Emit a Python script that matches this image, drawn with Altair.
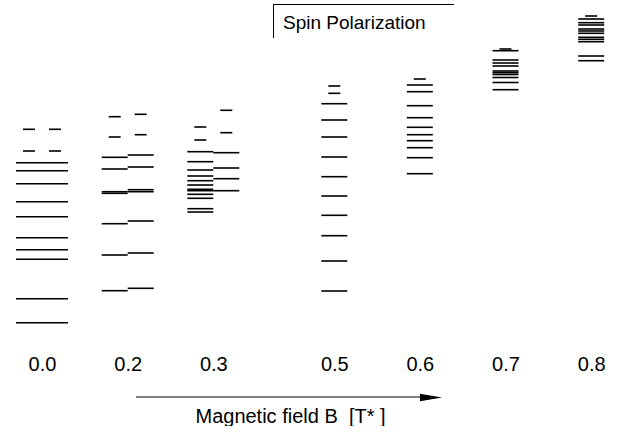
import altair as alt
import pandas as pd

# Magnetic field values (tick labels) and column centres on the page
B_VALUES = [0.0, 0.2, 0.3, 0.5, 0.6, 0.7, 0.8]
B_LABEL_POS = [42, 127.7, 213.3, 334.3, 419.8, 505.5, 591.2]

# Energy levels (arbitrary units)
b00_levels = [17.73, 16.93, 15.63, 13.83, 12.33, 10.23, 9.03, 8.07, 4.13, 1.73]
b00_dash = [21.07, 18.9]

b02_left = [18.27, 17.1, 14.83, 14.67, 11.63, 8.5, 4.93]
b02_right = [18.5, 17.3, 15.03, 14.83, 11.9, 8.7, 5.17]
b02_dash_left = [22.33, 20.3]
b02_dash_right = [22.57, 20.53]

b03_left = [18.83, 17.83, 17.0, 16.4, 15.93, 15.5, 15.07, 14.93, 14.57, 14.17, 13.13, 12.8]
b03_right = [18.73, 17.2, 16.13, 14.93]
b03_dash_left = [21.3, 20.0]
b03_dash_right = [22.97, 20.73]

b05_levels = [23.63, 22.0, 20.3, 18.3, 16.33, 14.4, 12.47, 10.43, 7.9, 4.9]
b05_dash = [25.4, 24.67]

b06_levels = [25.5, 24.83, 23.43, 22.23, 21.27, 20.53, 19.93, 19.23, 18.23, 16.63]
b06_dash = [26.1]

b07_levels = [28.93, 28.0, 27.7, 27.4, 26.9, 26.73, 26.55, 26.25, 25.75, 25.03]
b07_dash = [29.1]

b08_levels = [32.1, 31.73, 31.5, 31.1, 30.9, 30.67, 30.27, 30.07, 29.83, 28.4, 27.93]
b08_dash = [32.4]

rows = []
def add(b, values, kind):
    for v in values:
        rows.append({"B": b, "E": v, "kind": kind})

add(0.0, b00_levels, "full")
add(0.0, b00_dash, "dash_left")
add(0.0, b00_dash, "dash_right")
add(0.2, b02_left, "left")
add(0.2, b02_right, "right")
add(0.2, b02_dash_left, "dash_left")
add(0.2, b02_dash_right, "dash_right")
add(0.3, b03_left, "left")
add(0.3, b03_right, "right")
add(0.3, b03_dash_left, "dash_left")
add(0.3, b03_dash_right, "dash_right")
add(0.5, b05_levels, "single")
add(0.5, b05_dash, "dash_single")
add(0.6, b06_levels, "single")
add(0.6, b06_dash, "dash_single")
add(0.7, b07_levels, "single")
add(0.7, b07_dash, "dash_single")
add(0.8, b08_levels, "single")
add(0.8, b08_dash, "dash_single")

df = pd.DataFrame(rows)
one = pd.DataFrame({"a": [0]})

FONT = "Liberation Sans"

xscale = alt.Scale(domain=B_VALUES, range=B_LABEL_POS, nice=False, zero=False)
yscale = alt.Scale(domain=[0, 34], nice=False, zero=False)
xaxis = alt.Axis(
    values=B_VALUES, format=".1f", domain=False, ticks=False, grid=False,
    labelFontSize=20, labelPadding=14, labelColor="black", labelFont=FONT,
    labelFlush=False, labelOverlap=False, labelAlign="center",
    title="Magnetic field B\u00a0\u00a0[T*\u00a0]", titleFontSize=20,
    titleFontWeight="normal", titleFont=FONT, titleColor="black",
    titleX=290, titleY=82, titleAlign="center", titleBaseline="alphabetic",
)

def level_layer(kind, size, offset):
    return alt.Chart(df).transform_filter(alt.datum.kind == kind).mark_tick(
        orient="horizontal", size=size, thickness=1.6, xOffset=offset,
        color="black", opacity=1,
    ).encode(
        x=alt.X("B:Q", scale=xscale, axis=xaxis),
        y=alt.Y("E:Q", scale=yscale, axis=None),
    )

layers = [
    level_layer("full", 52, 0),
    level_layer("left", 26, -13),
    level_layer("right", 26, 13),
    level_layer("single", 26, 0),
    level_layer("dash_left", 12, -13),
    level_layer("dash_right", 12, 13),
    level_layer("dash_single", 12, 0),
]

arrow_line = alt.Chart(one).mark_rule(color="black", strokeWidth=1.2).encode(
    x=alt.value(136), x2=alt.value(422), y=alt.value(397)
)
arrow_head = alt.Chart(one).mark_point(
    shape="M-1,-0.35L1,0L-1,0.35Z", filled=True, color="black", opacity=1, size=484
).encode(x=alt.value(431), y=alt.value(397.5))

box_h = alt.Chart(one).mark_rule(color="black", strokeWidth=1).encode(
    x=alt.value(273), x2=alt.value(454), y=alt.value(4.5)
)
box_v = alt.Chart(one).mark_rule(color="black", strokeWidth=1).encode(
    x=alt.value(273.5), y=alt.value(4), y2=alt.value(38)
)
box_text = alt.Chart(one).mark_text(
    text="Spin Polarization", align="left", baseline="alphabetic",
    fontSize=19, font=FONT, color="black",
).encode(x=alt.value(283), y=alt.value(28.5))

chart = alt.layer(*layers, arrow_line, arrow_head, box_h, box_v, box_text).properties(
    width=629, height=340
).configure(padding=0, background="white").configure_view(stroke=None)

chart.save("out.html", embed_options={"renderer": "svg", "actions": False})
